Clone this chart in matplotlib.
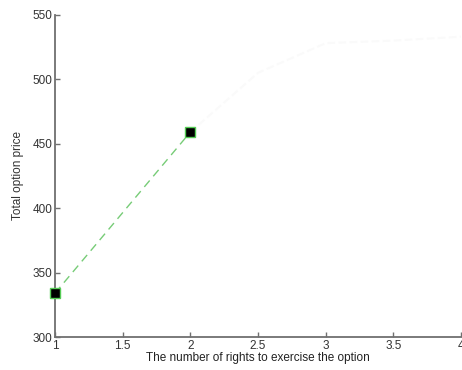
import matplotlib
matplotlib.use("Agg")
import matplotlib.pyplot as plt

plt.rcParams['font.family'] = ['Liberation Sans', 'DejaVu Sans']

rights = [1, 2]
price = [334, 459]
faint_x = [2, 2.5, 3, 3.5, 4]
faint_y = [459, 505, 528, 530, 533]

xticks = [1, 1.5, 2, 2.5, 3, 3.5, 4]
xticklabels = ['1', '1.5', '2', '2.5', '3', '3.5', '4']
yticks = [300, 350, 400, 450, 500, 550]

fig = plt.figure(figsize=(4.62, 3.70), dpi=100)
ax = fig.add_axes([0.119, 0.089, 0.879, 0.871])

ax.plot(faint_x, faint_y, color='#fafafa', lw=1.5, ls='--')
ax.plot(rights, price, color='#77cc77', lw=1, ls=(0, (6, 4)),
        marker='s', markersize=6.5, markerfacecolor='black',
        markeredgecolor='#55cc55', markeredgewidth=1.0, clip_on=False,
        zorder=5)

ax.set_xlim(1, 4)
ax.set_ylim(300, 550)
ax.set_xticks(xticks)
ax.set_xticklabels(xticklabels)
ax.set_yticks(yticks)

for s in ['top', 'right']:
    ax.spines[s].set_visible(False)
for s in ['left', 'bottom']:
    ax.spines[s].set_color('#707070')
    ax.spines[s].set_linewidth(1.3)

ax.tick_params(direction='in', length=3.5, width=1, colors='#707070',
               labelcolor='#333333', labelsize=8.5, pad=2)

ax.set_xlabel('The number of rights to exercise the option', fontsize=8.5,
              color='#222222', labelpad=0)
ax.set_ylabel('Total option price', fontsize=8.5, color='#333333', labelpad=6)

fig.savefig('out.png', dpi=100)
